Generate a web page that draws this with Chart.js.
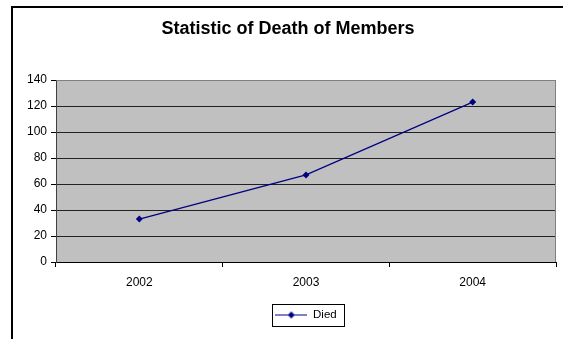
<!DOCTYPE html>
<html>
<head>
<meta charset="utf-8">
<title>Statistic of Death of Members</title>
<script src="https://cdn.jsdelivr.net/npm/chart.js@4.4.1/dist/chart.umd.min.js"></script>
<style>
  html, body { margin: 0; padding: 0; background: #fff; }
  canvas { display: block; }
</style>
</head>
<body>
<canvas id="deathChart" width="563" height="339"></canvas>
<script>
// ── data ─────────────────────────────────────────────────────────────────────
const YEARS = ["2002", "2003", "2004"];
const DIED = [33, 67, 123];
const Y_TICKS = [0, 20, 40, 60, 80, 100, 120, 140];

const FONT = "'Liberation Sans', Arial, sans-serif";
const NAVY = "#000080";

// ── legend icon: line with a diamond in the middle ───────────────────────────
function makeLegendIcon() {
    const c = document.createElement("canvas");
    c.width = 32;
    c.height = 9;
    const g = c.getContext("2d");
    g.strokeStyle = NAVY;
    g.fillStyle = NAVY;
    g.lineWidth = 1;
    g.beginPath();
    g.moveTo(0, 4.5);
    g.lineTo(32, 4.5);
    g.stroke();
    g.beginPath();
    g.moveTo(16, 1);
    g.lineTo(19.5, 4.5);
    g.lineTo(16, 8);
    g.lineTo(12.5, 4.5);
    g.closePath();
    g.fill();
    return c;
}

// ── plugins: outer frame, grey plot area, boxed legend ───────────────────────
const excelLook = {
    id: "excelLook",
    afterLayout(chart) {
        // centre the legend under the plot area rather than the whole canvas
        const ca = chart.chartArea;
        chart.legend.left = ca.left;
        chart.legend.right = ca.right;
    },
    beforeDraw(chart) {
        const { ctx, chartArea: ca } = chart;
        ctx.save();
        ctx.fillStyle = "#fff";
        ctx.fillRect(0, 0, chart.width, chart.height);
        ctx.strokeStyle = "#000";
        ctx.lineWidth = 2;
        ctx.beginPath();
        ctx.moveTo(12, chart.height);
        ctx.lineTo(12, 7);
        ctx.lineTo(chart.width, 7);
        ctx.stroke();
        ctx.fillStyle = "#c0c0c0";
        ctx.fillRect(ca.left, ca.top, ca.right - ca.left, ca.bottom - ca.top);
        ctx.restore();
    },
    beforeDatasetsDraw(chart) {
        const { ctx, chartArea: ca } = chart;
        ctx.save();
        ctx.strokeStyle = "#808080";
        ctx.lineWidth = 1;
        ctx.beginPath();
        ctx.moveTo(Math.round(ca.left) + 0.5, Math.round(ca.top) + 0.5);
        ctx.lineTo(Math.round(ca.right) - 0.5, Math.round(ca.top) + 0.5);
        ctx.lineTo(Math.round(ca.right) - 0.5, Math.round(ca.bottom));
        ctx.stroke();
        ctx.restore();
    },
    afterDraw(chart) {
        const lg = chart.legend;
        if (!lg || !lg.legendHitBoxes.length) return;
        const pad = lg.options.labels.padding;
        const hb = lg.legendHitBoxes[0];
        const x0 = (lg.left + pad + lg.right - lg.lineWidths[0]) / 2;
        const cy = lg.top + pad + hb.height / 2;
        const { ctx } = chart;
        ctx.save();
        ctx.strokeStyle = "#000";
        ctx.lineWidth = 1;
        ctx.strokeRect(Math.round(x0 - 3) + 0.5, Math.round(cy - 11) + 0.5,
            Math.round(hb.width + 11), 22);
        ctx.restore();
    },
};

// ── chart ────────────────────────────────────────────────────────────────────
const ctx = document.getElementById("deathChart").getContext("2d");
new Chart(ctx, {
    type: "line",
    data: {
        labels: YEARS,
        datasets: [{
            label: "Died",
            data: DIED,
            borderColor: NAVY,
            backgroundColor: NAVY,
            borderWidth: 1.2,
            pointStyle: "rectRot",
            pointRadius: 3.5,
            pointBorderWidth: 0,
            pointBackgroundColor: NAVY,
            tension: 0,
            fill: false,
        }],
    },
    options: {
        responsive: false,
        animation: false,
        layout: { padding: { left: 20, right: 7, top: 0, bottom: 8.25 } },
        scales: {
            x: {
                offset: true,
                grid: {
                    offset: true,
                    drawOnChartArea: false,
                    drawTicks: true,
                    tickLength: 5,
                    tickColor: "#000",
                },
                border: { display: true, color: "#000", width: 1 },
                ticks: { color: "#000", font: { family: FONT, size: 12 }, padding: 8 },
                afterFit: s => { s.height = 37.25; },
            },
            y: {
                min: Y_TICKS[0],
                max: Y_TICKS[Y_TICKS.length - 1],
                grid: {
                    color: c => (c.tick && c.tick.value === Y_TICKS[Y_TICKS.length - 1]) ? "#808080" : "#222",
                    tickColor: "#000",
                    tickLength: 5,
                    lineWidth: 1,
                },
                border: { display: true, color: "#404040", width: 1 },
                ticks: {
                    stepSize: Y_TICKS[1] - Y_TICKS[0],
                    color: "#000",
                    font: { family: FONT, size: 12 },
                    padding: 4,
                },
                afterFit: s => { s.width = 36; },
            },
        },
        plugins: {
            title: {
                display: true,
                text: "Statistic of Death of Members",
                color: "#000",
                font: { family: FONT, size: 18, weight: "bold" },
                padding: { top: 18.7, bottom: 39.7 },
            },
            legend: {
                display: true,
                position: "bottom",
                labels: {
                    color: "#000",
                    font: { family: FONT, size: 11.5 },
                    usePointStyle: true,
                    pointStyle: makeLegendIcon(),
                    pointStyleWidth: 32,
                    padding: 10,
                },
            },
            tooltip: { enabled: false },
        },
    },
    plugins: [excelLook],
});
</script>
</body>
</html>
